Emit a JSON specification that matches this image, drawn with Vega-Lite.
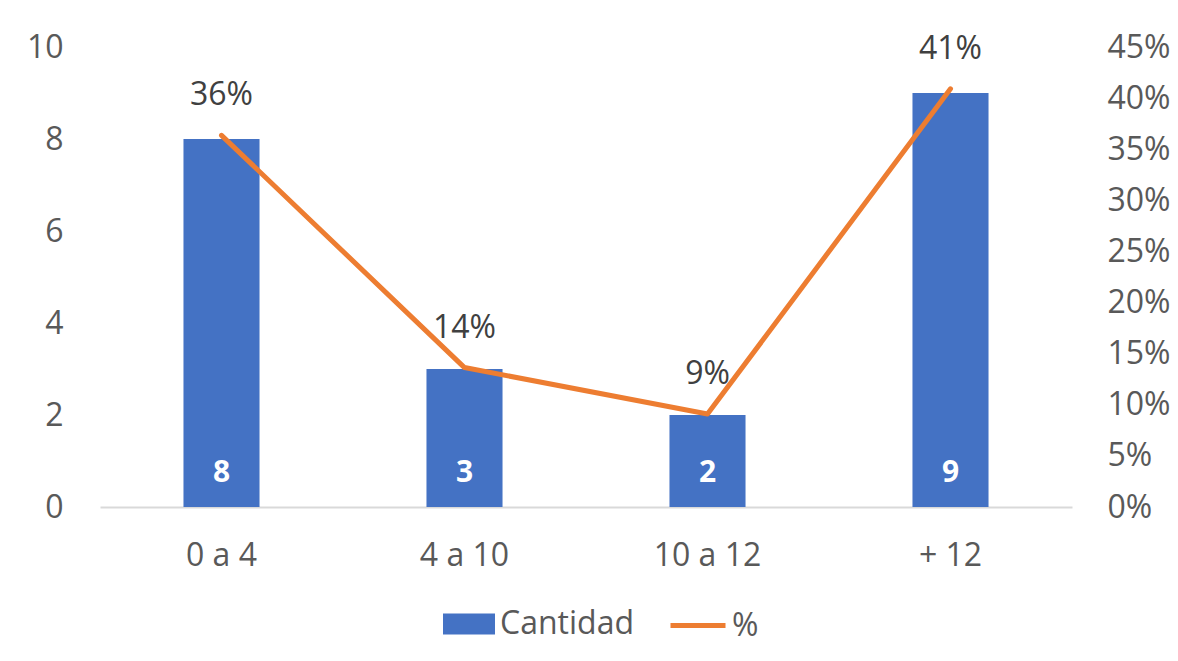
{
  "$schema": "https://vega.github.io/schema/vega-lite/v6.json",
  "width": 972,
  "height": 460,
  "autosize": {"type": "none"},
  "padding": {"left": 100, "top": 47, "right": 106, "bottom": 154},
  "background": "#ffffff",
  "data": {
    "values": [
      {"rango": "0 a 4", "cantidad": 8, "pct": 0.3636},
      {"rango": "4 a 10", "cantidad": 3, "pct": 0.1364},
      {"rango": "10 a 12", "cantidad": 2, "pct": 0.0909},
      {"rango": "+ 12", "cantidad": 9, "pct": 0.4091}
    ]
  },
  "encoding": {
    "x": {
      "field": "rango",
      "type": "nominal",
      "sort": null,
      "scale": {"paddingInner": 0.687, "paddingOuter": 0.3435},
      "axis": {
        "title": null,
        "labelAngle": 0,
        "labelPadding": 33,
        "domainColor": "#D9D9D9",
        "domainWidth": 2,
        "ticks": false
      }
    }
  },
  "layer": [
    {
      "encoding": {
        "y": {
          "field": "cantidad",
          "type": "quantitative",
          "scale": {"domain": [0, 10], "nice": false},
          "axis": {
            "title": null,
            "orient": "left",
            "values": [0, 2, 4, 6, 8, 10],
            "labelPadding": 37,
            "domain": false,
            "ticks": false,
            "grid": false
          }
        }
      },
      "layer": [
        {
          "mark": {"type": "bar"},
          "encoding": {
            "fill": {
              "datum": "Cantidad",
              "scale": {"range": ["#4472C4"]},
              "legend": {
                "title": null,
                "orient": "none",
                "legendX": 343,
                "legendY": 551,
                "symbolType": "M-1,-0.4H1V0.4H-1Z",
                "symbolSize": 2704,
                "symbolStrokeWidth": 0,
                "labelOffset": 5
              }
            }
          }
        },
        {
          "mark": {
            "type": "text",
            "color": "#ffffff",
            "font": "Open Sans",
            "fontSize": 30,
            "fontWeight": "bold",
            "baseline": "middle",
            "dy": -34
          },
          "encoding": {
            "y": {"datum": 0},
            "text": {"field": "cantidad", "type": "quantitative"}
          }
        }
      ]
    },
    {
      "encoding": {
        "y": {
          "field": "pct",
          "type": "quantitative",
          "scale": {"domain": [0, 0.45], "nice": false},
          "axis": {
            "title": null,
            "orient": "right",
            "values": [0, 0.05, 0.1, 0.15, 0.2, 0.25, 0.3, 0.35, 0.4, 0.45],
            "format": ".0%",
            "labelPadding": 35,
            "domain": false,
            "ticks": false,
            "grid": false
          }
        }
      },
      "layer": [
        {
          "mark": {
            "type": "line",
            "strokeWidth": 5,
            "strokeCap": "round",
            "strokeJoin": "round"
          },
          "encoding": {
            "stroke": {
              "datum": "%",
              "scale": {"range": ["#ED7D31"]},
              "legend": {
                "title": null,
                "orient": "none",
                "legendX": 568,
                "legendY": 548.5,
                "symbolType": "stroke",
                "symbolSize": 3025,
                "symbolStrokeWidth": 5,
                "labelOffset": 4
              }
            }
          }
        },
        {
          "mark": {
            "type": "text",
            "color": "#404040",
            "font": "Open Sans",
            "fontSize": 32,
            "baseline": "middle",
            "dy": -40
          },
          "encoding": {
            "text": {"field": "pct", "type": "quantitative", "format": ".0%"}
          }
        }
      ]
    }
  ],
  "resolve": {"scale": {"y": "independent"}},
  "config": {
    "view": {"stroke": null},
    "font": "Open Sans",
    "axis": {
      "labelFont": "Open Sans",
      "labelFontSize": 32,
      "labelColor": "#595959",
      "grid": false
    },
    "legend": {
      "labelFont": "Open Sans",
      "labelFontSize": 32,
      "labelColor": "#595959",
      "padding": 0
    }
  }
}
